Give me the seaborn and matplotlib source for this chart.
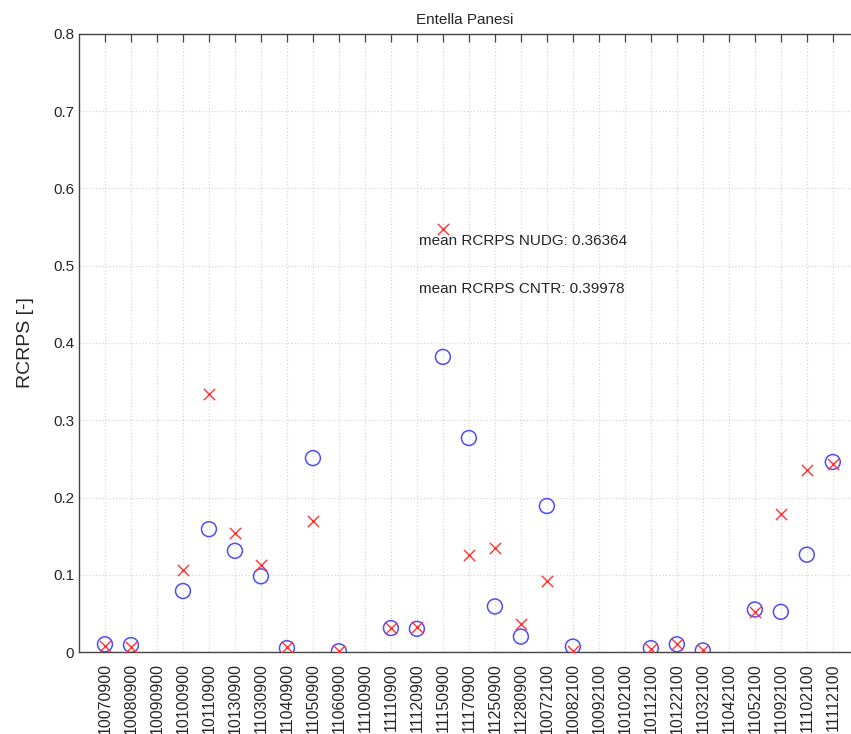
import numpy as np
import pandas as pd
import matplotlib
matplotlib.use('Agg')
import matplotlib.pyplot as plt
import seaborn as sns

# 站点/时间编码
stations = ['10070900', '10080900', '10090900', '10100900', '10110900', '10130900',
            '11030900', '11040900', '11050900', '11060900', '11100900', '11110900',
            '11120900', '11150900', '11170900', '11250900', '11280900', '10072100',
            '10082100', '10092100', '10102100', '10112100', '10122100', '11032100',
            '11042100', '11052100', '11092100', '11102100', '11112100']

# 蓝色圆圈
rcrps_circle = [0.010, 0.009, np.nan, 0.079, 0.159, 0.131, 0.098, 0.005, 0.251, 0.001,
                np.nan, 0.031, 0.030, 0.382, 0.277, 0.059, 0.020, 0.189, 0.007, np.nan,
                np.nan, 0.005, 0.010, 0.002, np.nan, 0.055, 0.052, 0.126, 0.246]
# 红色叉号
rcrps_cross = [0.008, 0.007, np.nan, 0.106, 0.334, 0.154, 0.113, 0.006, 0.170, 0.001,
               np.nan, 0.031, 0.033, 0.548, 0.125, 0.134, 0.036, 0.092, 0.001, np.nan,
               np.nan, 0.004, 0.011, 0.002, np.nan, 0.052, 0.179, 0.235, 0.243]

mean_nudg = 0.36364
mean_cntr = 0.39978

sns.set_style('white')
plt.rcParams['font.family'] = ['Liberation Sans', 'DejaVu Sans']

df = pd.DataFrame({'pos': np.arange(1, len(stations) + 1),
                   'circle': rcrps_circle, 'cross': rcrps_cross})

fig = plt.figure(figsize=(8.51, 7.34), dpi=100)
ax = fig.add_axes([0.0928, 0.1117, 0.9072, 0.842])

sns.scatterplot(data=df, x='pos', y='circle', ax=ax, marker='o', s=115,
                facecolors='none', edgecolor='#4d4dff', linewidth=1.1, zorder=3)
sns.scatterplot(data=df, x='pos', y='cross', ax=ax, marker='x', s=65,
                color='#ff3333', linewidth=1.0, zorder=4)

ax.set_xlim(0, 29.7)
ax.set_ylim(0, 0.8)
ax.set_xticks(df['pos'])
ax.set_xticklabels(stations, rotation=90, fontsize=11.5)
ax.set_yticks(np.arange(0, 0.81, 0.1))
ax.set_yticklabels(['0'] + [f'{v:.1f}' for v in np.arange(0.1, 0.81, 0.1)], fontsize=11)
ax.set_xlabel('')
ax.set_ylabel('RCRPS [-]', fontsize=14, labelpad=14)
ax.set_title('Entella Panesi', fontsize=11, pad=7)

ax.grid(True, color='#d8d8d8', linestyle=':', linewidth=0.9)
ax.tick_params(axis='both', direction='in', length=6, color='#444444', top=True, width=0.9)
ax.tick_params(axis='x', pad=8)
for side in ['left', 'bottom', 'top']:
    ax.spines[side].set_color('#444444')
    ax.spines[side].set_linewidth(1.0)
ax.spines['right'].set_visible(False)

ax.text(13.1, 0.532, f'mean RCRPS NUDG: {mean_nudg:.5f}', fontsize=11, va='center')
ax.text(13.1, 0.470, f'mean RCRPS CNTR: {mean_cntr:.5f}', fontsize=11, va='center')

fig.savefig('out.png', dpi=100)
